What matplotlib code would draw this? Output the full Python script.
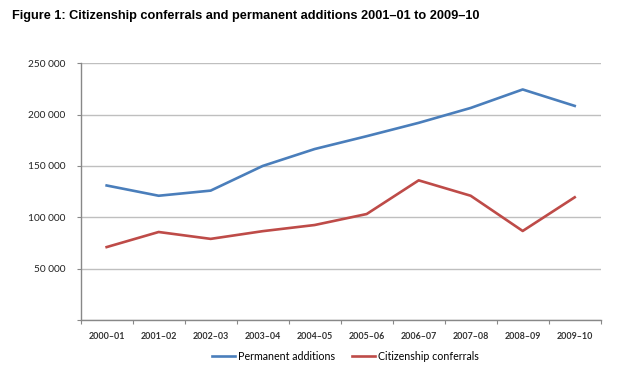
import matplotlib
matplotlib.use("Agg")
import matplotlib.pyplot as plt
from matplotlib.ticker import FuncFormatter

categories = ["2000\u201301", "2001\u201302", "2002\u201303", "2003\u201304", "2004\u201305",
              "2005\u201306", "2006\u201307", "2007\u201308", "2008\u201309", "2009\u201310"]
permanent_additions = [131000, 121000, 126000, 150000, 166500, 179000, 192000, 206500, 224500, 208500]
citizenship_conferrals = [71000, 85700, 79000, 86500, 92500, 103200, 136000, 121000, 86700, 119500]
yticks = [0, 50000, 100000, 150000, 200000, 250000]
title = "Figure 1: Citizenship conferrals and permanent additions 2001\u201301 to 2009\u201310"

fig = plt.figure(figsize=(6.4, 3.69), dpi=100)
ax = fig.add_axes([0.126, 0.1328, 0.8126, 0.6957])

x = list(range(len(categories)))
ax.plot(x, permanent_additions, color="#4A7EBB", lw=1.9, label="Permanent additions", solid_joinstyle="round")
ax.plot(x, citizenship_conferrals, color="#BE4B48", lw=1.9, label="Citizenship conferrals", solid_joinstyle="round")

ax.set_xlim(-0.5, len(categories) - 0.5)
ax.set_ylim(0, 250000)
ax.set_yticks(yticks)
ax.yaxis.set_major_formatter(FuncFormatter(lambda v, p: "" if v == 0 else f"{int(v):,}".replace(",", " ")))
ax.grid(axis="y", color="#BFBFBF", lw=1.0)
ax.set_axisbelow(True)

ax.set_xticks([i - 0.5 for i in range(len(categories) + 1)])
ax.set_xticklabels([])
ax.set_xticks(x, minor=True)
ax.set_xticklabels(categories, minor=True, fontsize=6.4, fontweight="bold", family="Lato", color="#333333")
ax.tick_params(axis="x", which="minor", length=0, pad=9)
ax.tick_params(axis="x", which="major", length=3, color="#888888", direction="out")
ax.tick_params(axis="y", length=3, color="#888888", labelsize=7.3, pad=8, labelcolor="#222222")
for lbl in ax.get_yticklabels():
    lbl.set_family("Lato")

for s in ["top", "right"]:
    ax.spines[s].set_visible(False)
for s in ["left", "bottom"]:
    ax.spines[s].set_color("#888888")
    ax.spines[s].set_linewidth(1.0)

fig.text(0.018, 0.957, title, fontsize=9.2, fontweight="bold", family="Liberation Sans", va="center", ha="left")

leg = fig.legend(loc="center", bbox_to_anchor=(0.54, 0.035), ncol=2, frameon=False,
                 prop={"family": "Lato", "size": 7.7}, handlelength=2.1, columnspacing=1.6, handletextpad=0.3)

fig.savefig("out.png", dpi=100)
